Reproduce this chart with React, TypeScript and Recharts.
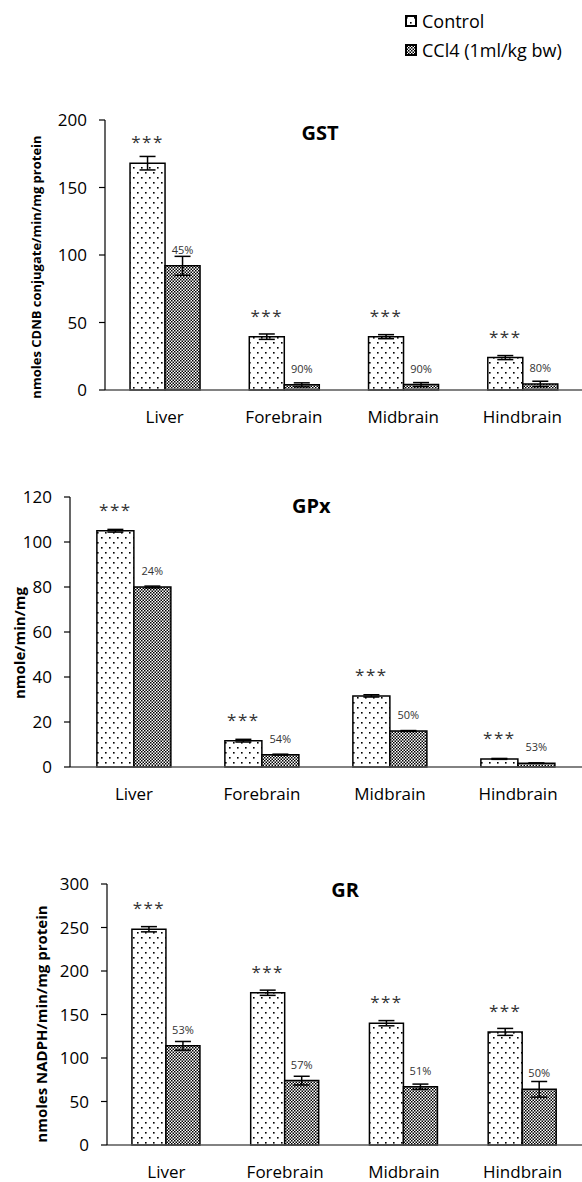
import React from 'react';
import { BarChart, Bar, XAxis, YAxis, ErrorBar, LabelList, Legend } from 'recharts';

const categories = ['Liver', 'Forebrain', 'Midbrain', 'Hindbrain'];
const seriesNames = ['Control', 'CCl4 (1ml/kg bw)'];

// GST
const gstControl = [168, 39.5, 39.5, 24];
const gstControlErr = [5, 2, 1.5, 1.5];
const gstCcl4 = [92, 3.8, 4, 4.5];
const gstCcl4Err = [7, 1.5, 1.5, 2];
const gstPct = ['45%', '90%', '90%', '80%'];
const gstTicks = [0, 50, 100, 150, 200];

// GPx
const gpxControl = [105, 11.7, 31.6, 3.6];
const gpxControlErr = [0.6, 0.6, 0.5, 0.2];
const gpxCcl4 = [80, 5.5, 16, 1.7];
const gpxCcl4Err = [0.4, 0.2, 0.2, 0.1];
const gpxPct = ['24%', '54%', '50%', '53%'];
const gpxTicks = [0, 20, 40, 60, 80, 100, 120];

// GR
const grControl = [248, 175, 140, 130];
const grControlErr = [3, 3, 3, 4];
const grCcl4 = [114, 74, 67, 64];
const grCcl4Err = [5, 5, 3, 9];
const grPct = ['53%', '57%', '51%', '50%'];
const grTicks = [0, 50, 100, 150, 200, 250, 300];

const sigMark = '***';
const font = '"Open Sans", sans-serif';

const build = (c: number[], ce: number[], t: number[], te: number[], pct: string[]) =>
  categories.map((name, i) => ({
    name,
    control: c[i],
    controlErr: ce[i],
    ccl4: t[i],
    ccl4Err: te[i],
    sig: sigMark,
    pct: pct[i],
  }));

const Patterns = () => (
  <defs>
    <pattern id="dots" width="8" height="10" patternUnits="userSpaceOnUse">
      <rect width="8" height="10" fill="#fff" />
      <rect x="1" y="2" width="1.6" height="1.6" fill="#000" />
      <rect x="5" y="7" width="1.6" height="1.6" fill="#000" />
    </pattern>
    <pattern id="checks" width="3" height="3" patternUnits="userSpaceOnUse">
      <rect width="3" height="3" fill="#fff" />
      <rect x="0" y="0" width="1.5" height="1.5" fill="#000" />
      <rect x="1.5" y="1.5" width="1.5" height="1.5" fill="#000" />
    </pattern>
  </defs>
);

const renderLegend = () => (
  <div style={{ fontFamily: font, fontSize: 18, color: '#000' }}>
    {seriesNames.map((s, i) => (
      <div key={s} style={{ display: 'flex', alignItems: 'center', height: 29 }}>
        <svg width={12} height={12} style={{ marginRight: 5 }}>
          <rect x={1} y={1} width={10} height={10} fill={i === 0 ? 'url(#dots)' : 'url(#checks)'} stroke="#000" strokeWidth={2} />
        </svg>
        <span>{s}</span>
      </div>
    ))}
  </div>
);

interface PanelProps {
  top: number;
  height: number;
  marginTop: number;
  yWidth: number;
  ticks: number[];
  data: any[];
  title: string;
  titleX: number;
  titleY: number;
  titleAnchor: 'start' | 'middle';
  yLabel: string;
  yLabelX: number;
  yLabelY: number;
  yLabelSize: number;
  legend?: boolean;
}

function Panel(p: PanelProps) {
  return (
    <div style={{ position: 'absolute', left: 0, top: p.top }}>
      <BarChart
        width={582}
        height={p.height}
        data={p.data}
        margin={{ top: p.marginTop, right: 0, left: 0, bottom: 0 }}
        barCategoryGap="21%"
        barGap={0}
      >
        <Patterns />
        <XAxis
          dataKey="name"
          tickLine={false}
          axisLine={{ stroke: '#595959', strokeWidth: 1.5 }}
          tick={{ fontSize: 17, fill: '#000', fontFamily: font }}
          tickMargin={15}
          height={40}
          interval={0}
        />
        <YAxis
          width={p.yWidth}
          domain={[p.ticks[0], p.ticks[p.ticks.length - 1]]}
          ticks={p.ticks}
          interval={0}
          axisLine={{ stroke: '#000', strokeWidth: 1.2 }}
          tickLine={{ stroke: '#000', strokeWidth: 1.2 }}
          tickSize={6}
          tickMargin={12}
          tick={{ fontSize: 17, fill: '#000', fontFamily: font }}
        />
        {p.legend && (
          <Legend
            content={renderLegend}
            layout="vertical"
            align="center"
            verticalAlign="middle"
            wrapperStyle={{ position: 'absolute', top: 6, left: 405, width: 177 }}
          />
        )}
        <Bar dataKey="control" name={seriesNames[0]} fill="url(#dots)" stroke="#000" strokeWidth={1.5} isAnimationActive={false}>
          <ErrorBar dataKey="controlErr" width={8} stroke="#000" strokeWidth={1.5} direction="y" />
          <LabelList dataKey="sig" position="top" offset={15} style={{ fontSize: 17, fill: '#333', fontFamily: font, letterSpacing: 1.5 }} />
        </Bar>
        <Bar dataKey="ccl4" name={seriesNames[1]} fill="url(#checks)" stroke="#000" strokeWidth={1.5} isAnimationActive={false}>
          <ErrorBar dataKey="ccl4Err" width={8} stroke="#000" strokeWidth={1.5} direction="y" />
          <LabelList dataKey="pct" position="top" offset={12} style={{ fontSize: 11, fill: '#333', fontFamily: font }} />
        </Bar>
        <text x={p.titleX} y={p.titleY} textAnchor={p.titleAnchor} fontSize={20} fontWeight="bold" fontFamily={font} fill="#000">
          {p.title}
        </text>
        <text
          x={p.yLabelX}
          y={p.yLabelY}
          transform={`rotate(-90 ${p.yLabelX} ${p.yLabelY})`}
          textAnchor="middle"
          dominantBaseline="central"
          fontSize={p.yLabelSize}
          fontWeight="bold"
          fontFamily={font}
          fill="#000"
        >
          {p.yLabel}
        </text>
      </BarChart>
    </div>
  );
}

export default function App() {
  return (
    <div style={{ position: 'absolute', left: 0, top: 0, width: 582, height: 1182, overflow: 'hidden', background: '#fff' }}>
      <Panel
        top={0}
        height={430}
        marginTop={120}
        yWidth={105}
        ticks={gstTicks}
        data={build(gstControl, gstControlErr, gstCcl4, gstCcl4Err, gstPct)}
        title="GST"
        titleX={320}
        titleY={140}
        titleAnchor="middle"
        yLabel="nmoles CDNB conjugate/min/mg protein"
        yLabelX={36}
        yLabelY={267}
        yLabelSize={13}
        legend
      />
      <Panel
        top={460}
        height={347}
        marginTop={37}
        yWidth={70}
        ticks={gpxTicks}
        data={build(gpxControl, gpxControlErr, gpxCcl4, gpxCcl4Err, gpxPct)}
        title="GPx"
        titleX={292}
        titleY={53}
        titleAnchor="start"
        yLabel="nmole/min/mg"
        yLabelX={19}
        yLabelY={183}
        yLabelSize={15}
      />
      <Panel
        top={840}
        height={345}
        marginTop={44}
        yWidth={107}
        ticks={grTicks}
        data={build(grControl, grControlErr, grCcl4, grCcl4Err, grPct)}
        title="GR"
        titleX={345}
        titleY={57}
        titleAnchor="middle"
        yLabel="nmoles NADPH/min/mg protein"
        yLabelX={41}
        yLabelY={184}
        yLabelSize={15}
      />
    </div>
  );
}
